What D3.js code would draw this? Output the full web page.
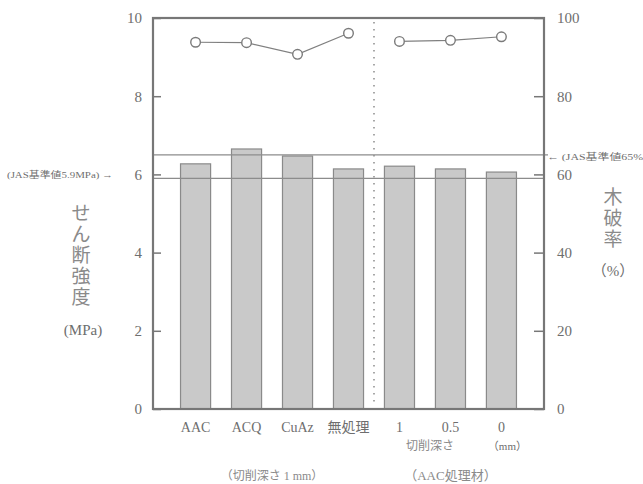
<!DOCTYPE html>
<html>
<head>
<meta charset="utf-8">
<script src="https://cdn.jsdelivr.net/npm/d3@7"></script>
<style>
  body { margin: 0; background: #fff; }
  svg text { font-family: "Liberation Serif", "DejaVu Serif", "Noto Sans CJK JP", serif; fill: #6e6e6e; }
  svg text.cjk { fill: #8a8a8a; }
</style>
</head>
<body>
<svg id="chart" width="643" height="484"></svg>
<script>
const categories = ["AAC", "ACQ", "CuAz", "無処理", "1", "0.5", "0"];
const shearStrength = [6.27, 6.65, 6.47, 6.14, 6.21, 6.14, 6.06];
const woodFailure = [93.8, 93.7, 90.7, 96.1, 94.0, 94.3, 95.2];
const groupA = ["AAC", "ACQ", "CuAz", "無処理"];
const groupB = ["1", "0.5", "0"];
const leftTicks = [0, 2, 4, 6, 8, 10];
const rightTicks = [0, 20, 40, 60, 80, 100];
const jasShear = 5.9;
const jasWood = 65;

const svg = d3.select("#chart");
const margin = { top: 18, right: 99, bottom: 75, left: 153 };
const width = 643 - margin.left - margin.right;
const height = 484 - margin.top - margin.bottom;
const g = svg.append("g").attr("transform", `translate(${margin.left},${margin.top})`);

const x = d3.scaleBand().domain(categories).range([0, width]).paddingInner(0.41).paddingOuter(0.54);
const yL = d3.scaleLinear().domain([0, 10]).range([height, 0]);
const yR = d3.scaleLinear().domain([0, 100]).range([height, 0]);

// bars
g.selectAll(".bar")
  .data(categories)
  .enter()
  .append("rect")
  .attr("x", d => x(d))
  .attr("y", (d, i) => yL(shearStrength[i]))
  .attr("width", x.bandwidth())
  .attr("height", (d, i) => height - yL(shearStrength[i]))
  .attr("fill", "#c9c9c9")
  .attr("stroke", "#8a8a8a")
  .attr("stroke-width", 1.2);

// JAS reference lines
g.append("line")
  .attr("x1", 0).attr("x2", width)
  .attr("y1", yL(jasShear)).attr("y2", yL(jasShear))
  .attr("stroke", "#8c8c8c").attr("stroke-width", 1.2);
g.append("line")
  .attr("x1", 0).attr("x2", width + 4)
  .attr("y1", yR(jasWood)).attr("y2", yR(jasWood))
  .attr("stroke", "#8c8c8c").attr("stroke-width", 1.2);

// dotted separator
const sepX = (x("無処理") + x.bandwidth() + x("1")) / 2;
g.append("line")
  .attr("x1", sepX).attr("x2", sepX)
  .attr("y1", 4).attr("y2", height - 4)
  .attr("stroke", "#8c8c8c").attr("stroke-width", 1.5)
  .attr("stroke-dasharray", "1.5,5.5");

// axes
const axL = g.append("g")
  .call(d3.axisLeft(yL).tickValues(leftTicks).tickSizeInner(-8).tickSizeOuter(0).tickPadding(11));
const axR = g.append("g")
  .attr("transform", `translate(${width},0)`)
  .call(d3.axisRight(yR).tickValues(rightTicks).tickSizeInner(-10).tickSizeOuter(0).tickPadding(13));
[axL, axR].forEach(a => {
  a.select(".domain").remove();
  a.selectAll("line").attr("stroke", "#777").attr("stroke-width", 1.5);
  a.selectAll("text").attr("font-size", 15).style("fill", "#6e6e6e");
});

// frame
g.append("rect")
  .attr("width", width).attr("height", height)
  .attr("fill", "none").attr("stroke", "#777").attr("stroke-width", 2.2);

// wood failure lines
const line = d3.line()
  .x(d => x(d) + x.bandwidth() / 2)
  .y(d => yR(woodFailure[categories.indexOf(d)]));
[groupA, groupB].forEach(grp => {
  g.append("path")
    .datum(grp)
    .attr("fill", "none")
    .attr("stroke", "#808080")
    .attr("stroke-width", 1.2)
    .attr("d", line);
});
g.selectAll(".pt")
  .data(categories)
  .enter()
  .append("circle")
  .attr("cx", d => x(d) + x.bandwidth() / 2)
  .attr("cy", (d, i) => yR(woodFailure[i]))
  .attr("r", 4.8)
  .attr("fill", "#fff")
  .attr("stroke", "#7a7a7a")
  .attr("stroke-width", 1.4);

// category labels
g.selectAll(".cat")
  .data(categories)
  .enter()
  .append("text")
  .attr("x", d => x(d) + x.bandwidth() / 2)
  .attr("y", height + 23)
  .attr("text-anchor", "middle")
  .attr("font-size", 14)
  .text(d => d);

const cx = d => x(d) + x.bandwidth() / 2;
g.append("text")
  .attr("class", "cjk")
  .attr("x", (cx("1") + cx("0.5")) / 2 + 5)
  .attr("y", height + 41)
  .attr("text-anchor", "middle")
  .attr("font-size", 12)
  .text("切削深さ");
g.append("text")
  .attr("x", cx("0") + 6)
  .attr("y", height + 41)
  .attr("text-anchor", "middle")
  .attr("font-size", 11)
  .text("（mm）");
g.append("text")
  .attr("class", "cjk")
  .attr("x", (cx("AAC") + cx("無処理")) / 2)
  .attr("y", height + 71)
  .attr("text-anchor", "middle")
  .attr("font-size", 12)
  .text("（切削深さ 1 mm）");
g.append("text")
  .attr("class", "cjk")
  .attr("x", cx("0.5"))
  .attr("y", height + 71)
  .attr("text-anchor", "middle")
  .attr("font-size", 13)
  .text("（AAC処理材）");

// JAS labels
svg.append("text")
  .attr("x", 7).attr("y", 178)
  .attr("font-size", 9)
  .attr("textLength", 106)
  .attr("lengthAdjust", "spacingAndGlyphs")
  .text("(JAS基準値5.9MPa) →");
svg.append("text")
  .attr("x", 547).attr("y", 160)
  .attr("font-size", 9)
  .attr("textLength", 100)
  .attr("lengthAdjust", "spacingAndGlyphs")
  .text("← (JAS基準値65%)");

// axis titles
const leftTitle = svg.append("text").attr("class", "cjk").attr("text-anchor", "middle").attr("font-size", 19);
["せ", "ん", "断", "強", "度"].forEach((c, i) => {
  leftTitle.append("tspan").attr("x", 81).attr("y", 220 + i * 21).text(c);
});
svg.append("text")
  .attr("x", 83).attr("y", 335)
  .attr("text-anchor", "middle")
  .attr("font-size", 15)
  .text("(MPa)");

const rightTitle = svg.append("text").attr("class", "cjk").attr("text-anchor", "middle").attr("font-size", 19);
["木", "破", "率"].forEach((c, i) => {
  rightTitle.append("tspan").attr("x", 613).attr("y", 204 + i * 21).text(c);
});
svg.append("text")
  .attr("x", 613).attr("y", 276)
  .attr("text-anchor", "middle")
  .attr("font-size", 15)
  .text("（%）");
</script>
</body>
</html>
